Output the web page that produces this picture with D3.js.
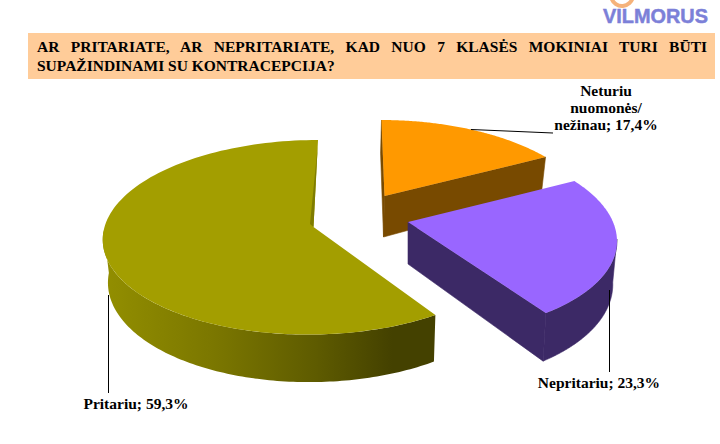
<!DOCTYPE html>
<html><head><meta charset="utf-8">
<script src="https://cdn.jsdelivr.net/npm/d3@7/dist/d3.min.js"></script>
<style>html,body{margin:0;padding:0;background:#fff}svg{display:block}</style>
</head><body><svg id="c" width="720" height="444"></svg>
<script>
const categories = ["Neturiu nuomonės/ nežinau", "Nepritariu", "Pritariu"];
const values = [17.4, 23.3, 59.3];
const valueLabels = ["17,4%", "23,3%", "59,3%"];
const titleLines = ["AR PRITARIATE, AR NEPRITARIATE, KAD NUO 7 KLASĖS MOKINIAI TURI BŪTI", "SUPAŽINDINAMI SU KONTRACEPCIJA?"];
const logoText = "VILMORUS";

const svg = d3.select("#c");
const serif = "'Liberation Serif','Times New Roman',serif";
const deg = Math.PI/180;

// Each exploded slice sits at its own place in the perspective view.
// wall: the part of the outer rim whose side can be seen.
const views = [
  {ax:384.5,ay:196,a:203,b:3.7,c:94,p:-0.237,depth:41,top:"#FF9900",side:"#784A00",faces:[0,1],shift:-1,wall:null},
  {ax:408,ay:222,a:205,b:8.75,c:95.3,p:-0.152,depth:42,top:"#9966FF",side:"#3C2966",faces:[1],shift:0,wall:[100*deg,null]},
  {ax:313.5,ay:227,a:209,b:-5,c:96.2,p:-0.1058,depth:42.5,top:"#A39E00",side:"url(#oliveSide)",faces:[],shift:1,wall:[null,268*deg]}
];

const arcs = d3.pie().sort(null).startAngle(0).endAngle(2*Math.PI)(values);

function pt(v, theta, r, low){
  const px = r*Math.sin(theta), py = -r*Math.cos(theta);
  const w = 1 + v.p*py;
  let X = (v.a*px + v.b*py)/w, Y = v.c*py/w;
  if(low){ X = X*0.98 + v.shift; Y += v.depth/w; }
  return [v.ax+X, v.ay+Y];
}
const line = d3.line();
const rim = (v,t0,t1,low) => d3.range(0,121).map(i=>pt(v,t0+(t1-t0)*i/120,1,low));

const defs = svg.append("defs");
const g = defs.append("linearGradient").attr("id","oliveSide").attr("gradientUnits","userSpaceOnUse")
  .attr("x1",102).attr("x2",432).attr("y1",0).attr("y2",0);
[[0,"#938F00"],[0.35,"#7A7600"],[0.65,"#5E5B00"],[0.88,"#444100"],[1,"#444100"]]
  .forEach(s=>g.append("stop").attr("offset",s[0]).attr("stop-color",s[1]));

svg.append("rect").attr("x",28).attr("y",33).attr("width",687).attr("height",46).attr("fill","#FFCC99");

// title, first line justified
const t1 = svg.append("text").attr("x",37).attr("y",52).attr("font-family",serif).attr("font-weight","bold")
  .attr("font-size",15.5).attr("fill","#000").text(titleLines[0]);
const gaps = titleLines[0].split(" ").length-1;
t1.attr("word-spacing",(707-37-t1.node().getComputedTextLength())/gaps);
svg.append("text").attr("x",37).attr("y",71).attr("font-family",serif).attr("font-weight","bold")
  .attr("font-size",15.5).attr("fill","#000").text(titleLines[1]);

// logo
svg.append("path").attr("d",d3.arc()({innerRadius:9,outerRadius:13,startAngle:Math.PI*0.55,endAngle:Math.PI*1.4}))
  .attr("transform","translate(622,-5)").attr("fill","#F5B27A");
svg.append("text").attr("x",603).attr("y",23).attr("font-family","'Liberation Sans',sans-serif").attr("font-weight","bold")
  .attr("font-size",21).attr("fill","#7C80D8").attr("stroke","#7C80D8").attr("stroke-width",0.5)
  .attr("textLength",105).attr("lengthAdjust","spacingAndGlyphs").text(logoText);

// slices, back to front
[2,0,1].forEach(i=>{
  const v = views[i], d = arcs[i], t0 = d.startAngle, t1 = d.endAngle;
  const s = svg.append("g");
  const seam = v.side.startsWith("url") ? "none" : v.side;
  v.faces.forEach(f=>{
    const th = f===0 ? t0 : t1;
    s.append("path").attr("fill",v.side).attr("stroke",seam).attr("stroke-width",0.6)
     .attr("d",line([pt(v,th,0,false),pt(v,th,1,false),pt(v,th,1,true),pt(v,th,0,true)])+"Z");
  });
  if(v.wall){
    const w0 = v.wall[0]===null ? t0 : v.wall[0], w1 = v.wall[1]===null ? t1 : v.wall[1];
    s.append("path").attr("fill",v.side).attr("stroke",seam).attr("stroke-width",0.6)
     .attr("d",line(rim(v,w0,w1,false).concat(rim(v,w0,w1,true).reverse()))+"Z");
  }
  s.append("path").attr("fill",v.top)
   .attr("d",line([pt(v,t0,0,false)].concat(rim(v,t0,t1,false)))+"Z");
  if(i===2){
    const a = pt(v,t1,0,false), b = pt(v,t1,0.92,false);
    s.append("path").attr("fill","#7F7C00").attr("d",line([b,a,[a[0]-3.5,a[1]-3]])+"Z");
  }
});

// leader lines
const leaders = [
  [pt(views[0],0.555,1,false),[553,133]],
  [[609.5,290],[609.5,372]],
  [[108.5,295],[108.5,393]]
];
svg.selectAll("path.leader").data(leaders).join("path").attr("class","leader")
  .attr("d",d=>line(d)).attr("stroke","#000").attr("stroke-width",1).attr("fill","none");

// labels
const lab = (txt,x,y)=>svg.append("text").attr("x",x).attr("y",y).attr("text-anchor","middle")
  .attr("font-family",serif).attr("font-weight","bold").attr("font-size",15.5).attr("fill","#000").text(txt);
const parts = ["Neturiu","nuomonės/",`nežinau; ${valueLabels[0]}`];
parts.forEach((p,i)=>lab(p,606,96+i*17));
lab(`${categories[1]}; ${valueLabels[1]}`,599,388);
lab(`${categories[2]}; ${valueLabels[2]}`,136,409);
</script></body></html>
